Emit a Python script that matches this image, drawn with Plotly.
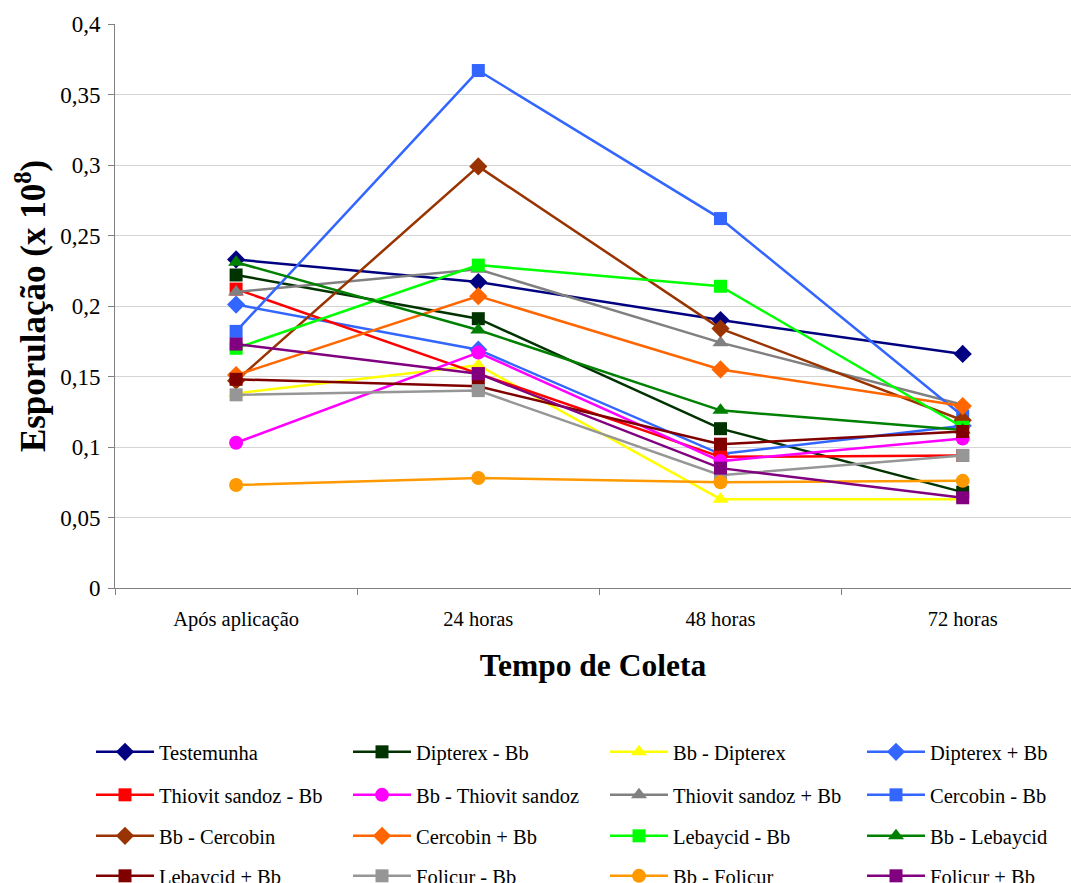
import plotly.graph_objects as go

categories = ["Após aplicação", "24 horas", "48 horas", "72 horas"]

series_names = [
    "Testemunha", "Dipterex - Bb", "Bb - Dipterex", "Dipterex + Bb",
    "Thiovit sandoz - Bb", "Bb - Thiovit sandoz", "Thiovit sandoz + Bb", "Cercobin - Bb",
    "Bb - Cercobin", "Cercobin + Bb", "Lebaycid - Bb", "Bb - Lebaycid",
    "Lebaycid + Bb", "Folicur - Bb", "Bb - Folicur", "Folicur + Bb",
]

testemunha = [0.233, 0.217, 0.190, 0.166]
dipterex_bb = [0.222, 0.191, 0.113, 0.068]
bb_dipterex = [0.138, 0.158, 0.063, 0.063]
dipterex_mais_bb = [0.201, 0.169, 0.095, 0.115]
thiovit_bb = [0.212, 0.152, 0.093, 0.094]
bb_thiovit = [0.103, 0.167, 0.090, 0.106]
thiovit_mais_bb = [0.210, 0.226, 0.174, 0.130]
cercobin_bb = [0.182, 0.367, 0.262, 0.122]
bb_cercobin = [0.147, 0.299, 0.184, 0.119]
cercobin_mais_bb = [0.151, 0.207, 0.155, 0.129]
lebaycid_bb = [0.170, 0.229, 0.214, 0.114]
bb_lebaycid = [0.231, 0.183, 0.126, 0.112]
lebaycid_mais_bb = [0.148, 0.143, 0.102, 0.111]
folicur_bb = [0.137, 0.140, 0.080, 0.094]
bb_folicur = [0.073, 0.078, 0.075, 0.076]
folicur_mais_bb = [0.173, 0.152, 0.085, 0.064]

series_values = [
    testemunha, dipterex_bb, bb_dipterex, dipterex_mais_bb,
    thiovit_bb, bb_thiovit, thiovit_mais_bb, cercobin_bb,
    bb_cercobin, cercobin_mais_bb, lebaycid_bb, bb_lebaycid,
    lebaycid_mais_bb, folicur_bb, bb_folicur, folicur_mais_bb,
]

colors = [
    "#000080", "#003300", "#FFFF00", "#3366FF",
    "#FF0000", "#FF00FF", "#808080", "#3366FF",
    "#993300", "#FF6600", "#00FF00", "#008000",
    "#800000", "#969696", "#FF9900", "#800080",
]
symbols = [
    "diamond", "square", "triangle-up", "diamond",
    "square", "circle", "triangle-up", "square",
    "diamond", "diamond", "square", "triangle-up",
    "square", "square", "circle", "square",
]
sizes = {"diamond": 14, "square": 13, "triangle-up": 14, "circle": 14}

y_ticks = [0, 0.05, 0.1, 0.15, 0.2, 0.25, 0.3, 0.35, 0.4]

font_family = "Liberation Serif"

W, H = 1071, 883
plot_l, plot_t, plot_b = 115, 24, 588
plot_h = plot_b - plot_t
plot_w = W - plot_l
cat_step = 242.2

legend_ids = ["legend", "legend2", "legend3", "legend4"]

fig = go.Figure()
for i, (name, vals) in enumerate(zip(series_names, series_values)):
    fig.add_trace(go.Scatter(
        x=categories, y=vals, name=name, mode="lines+markers",
        line=dict(color=colors[i], width=2.5),
        marker=dict(symbol=symbols[i], size=sizes[symbols[i]], color=colors[i]),
        legend=legend_ids[i // 4],
        legendwidth=118 if i % 4 == 3 else None,
    ))

row_centers = [752, 795, 836, 876]
legend_common = dict(
    orientation="h", entrywidth=184, entrywidthmode="pixels",
    itemwidth=58, font=dict(family=font_family, size=20.5, color="black"),
    bgcolor="rgba(0,0,0,0)", xanchor="left", yanchor="middle",
    x=(91 - plot_l) / plot_w, itemclick=False, itemdoubleclick=False,
)
layout_legends = {}
for k, lid in enumerate(legend_ids):
    layout_legends[lid] = dict(legend_common, y=(plot_b - row_centers[k]) / plot_h)

fig.update_layout(
    width=W, height=H,
    margin=dict(l=plot_l, r=0, t=plot_t, b=H - plot_b, pad=0, autoexpand=False),
    paper_bgcolor="white", plot_bgcolor="white",
    separators=", ",
    font=dict(family=font_family, size=20, color="black"),
    showlegend=True,
    xaxis=dict(
        type="category", categoryorder="array", categoryarray=categories,
        range=[-0.5, -0.5 + plot_w / cat_step], automargin=False,
        showline=True, linecolor="#808080", linewidth=1,
        ticks="outside", tickson="boundaries", ticklen=6, tickcolor="#808080",
        showgrid=False, tickfont=dict(size=20.5, family=font_family),
        ticklabelstandoff=12,
        title=dict(text="<b>Tempo de Coleta</b>", font=dict(size=31.5, family=font_family), standoff=24),
    ),
    yaxis=dict(
        range=[0, 0.4], tickvals=y_ticks, automargin=False,
        showline=True, linecolor="#808080", linewidth=1,
        ticks="outside", ticklen=6, tickcolor="#808080",
        showgrid=True, gridcolor="#d4d4d4", gridwidth=1, zeroline=False,
        tickfont=dict(size=23, family=font_family), ticklabelstandoff=3,
        title=dict(text="<b>Esporulação (x 10<sup>8</sup>)</b>", font=dict(size=35, family=font_family), standoff=3),
    ),
    **layout_legends,
)

fig.write_html(
    "out.html",
    config={"displayModeBar": False},
    post_script="document.body.style.margin='0';document.body.style.overflow='hidden';",
)
